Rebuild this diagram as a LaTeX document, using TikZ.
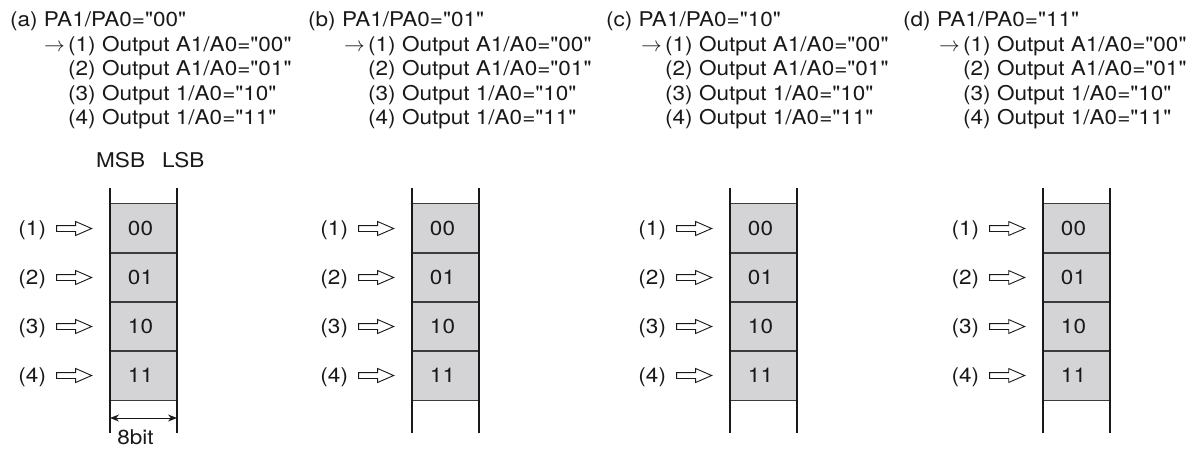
\documentclass[tikz,border=0pt]{standalone}
\usepackage{fontspec}
\setmainfont{TeX Gyre Heros}[FakeStretch=1.11, Ligatures=TeXOff]
\usetikzlibrary{shapes.arrows,arrows.meta}
\definecolor{cellgray}{RGB}{212,212,214}
\definecolor{ink}{RGB}{25,25,25}
\begin{document}
\begin{tikzpicture}[x=1pt,y=-1pt,
  txt/.style={inner sep=0pt, text=ink, font=\fontsize{20.3}{24}\selectfont},
  cellbox/.style={fill=cellgray, minimum width=67pt, minimum height=49pt, inner sep=0pt, text=ink, font=\fontsize{20.3}{24}\selectfont},
  rail/.style={line width=2pt, draw=ink},
  divider/.style={line width=1.2pt, draw=ink!85},
  hollow/.style={single arrow, draw=ink, line width=0.9pt, fill=white, minimum height=35pt, single arrow head extend=4pt, single arrow tip angle=47, inner sep=0pt, text height=5pt, text depth=0pt, text width=0pt},
  dimarrow/.style={{Stealth[length=9pt,width=7pt]}-{Stealth[length=9pt,width=7pt]}, line width=1pt, draw=ink}
]
\useasboundingbox (0,0) rectangle (1188,451);
\foreach \p/\hx/\lx/\L/\code in {a/10/68/110/00, b/308/368/412/01, c/606/665/730/10, d/903/963/1043/11}{
  \node[txt, anchor=base west] (\p h) at (\hx,26.5) {(\p) PA1/PA0="\code"};
  \node[txt, anchor=base west] (\p l1) at (\lx,51) {(1) Output A1/A0="00"};
  \node[txt, anchor=base west] (\p l2) at (\lx,75.5) {(2) Output A1/A0="01"};
  \node[txt, anchor=base west] (\p l3) at (\lx,100) {(3) Output 1/A0="10"};
  \node[txt, anchor=base west] (\p l4) at (\lx,124.5) {(4) Output 1/A0="11"};
  \node[txt, anchor=base east] (\p arr) at ([xshift=-3pt]\p l1.base west) {$\rightarrow$};
  \foreach \k/\v in {1/00,2/01,3/10,4/11}{
    \node[cellbox] (\p c\k) at ({\L+33.5},{228.5+49*(\k-1)}) {\hspace*{-6pt}\v};
  }
  \foreach \k in {1,2,3,4}{
    \draw[divider] (\p c\k.north west) -- (\p c\k.north east);
    \draw[divider] (\p c\k.south west) -- (\p c\k.south east);
    \node[hollow, anchor=tip] (\p a\k) at ([xshift=-17pt]\p c\k.west) {};
    \node[txt, anchor=base east] (\p n\k) at ([xshift=-10pt,yshift=-7pt]\p a\k.tail) {(\k)};
  }
  \coordinate (\p tl) at (\L,188);
  \coordinate (\p bl) at (\L,433);
  \coordinate (\p tr) at ({\L+67},188);
  \coordinate (\p br) at ({\L+67},433);
  \draw[rail] (\p tl) -- (\p bl);
  \draw[rail] (\p tr) -- (\p br);
}
\node[txt, anchor=base west] (msb) at (96,167) {MSB};
\node[txt, anchor=base west] (lsb) at (162,167) {LSB};
\coordinate (dl) at (110,418);
\coordinate (dr) at (177,418);
\draw[dimarrow] (dl) -- (dr);
\node[txt, anchor=base] (bits) at (135.5,444) {8bit};
\end{tikzpicture}
\end{document}
